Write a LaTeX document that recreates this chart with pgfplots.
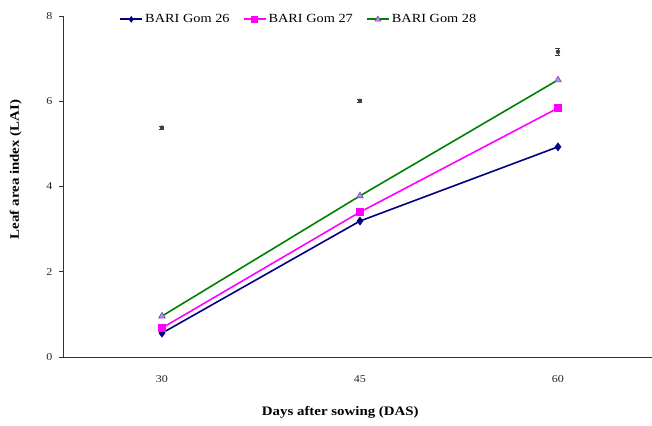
\documentclass[border=0pt]{standalone}
\usepackage{pgfplots}
\pgfplotsset{compat=1.18}
\usepackage{fontspec}
\setmainfont[FakeStretch=1.15]{Liberation Serif}
\definecolor{navy}{RGB}{0,0,128}
\definecolor{mag}{RGB}{255,0,255}
\definecolor{grn}{RGB}{0,128,0}
\definecolor{tri}{RGB}{153,153,255}
\definecolor{trie}{RGB}{153,51,153}
\begin{document}
\begin{tikzpicture}
\path[use as bounding box] (-63bp,-69bp) rectangle (589bp,357bp);
\begin{axis}[
  scale only axis,
  width=590bp, height=341bp,
  xmin=-0.5, xmax=2.48,
  ymin=0, ymax=8,
  axis lines*=left,
  axis line style={black!80, line width=0.6pt},
  xtick={0,1,2}, xticklabels={30,45,60},
  major x tick style={draw=none},
  extra x ticks={0.5,1.5},
  extra x tick labels={},
  extra x tick style={major tick length=4bp, tick style={black!80, line width=0.6pt}},
  ytick={0,2,4,6,8},
  tick align=outside,
  major tick length=4bp,
  tick style={black!80, line width=0.6pt},
  /pgf/number format/assume math mode=true,
  tick label style={font=\fontsize{10.5}{12}\selectfont, text=black!85},
  yticklabel style={xshift=-3bp},
  xticklabel style={yshift=-11bp},
  xlabel={\textbf{Days after sowing (DAS)}},
  ylabel={\textbf{Leaf area index (LAI)}},
  label style={font=\fontsize{13}{15}\selectfont},
  xlabel style={at={(axis description cs:0.47,-0.162)}, anchor=center},
  ylabel style={at={(axis description cs:-0.08,0.55)}, anchor=center, rotate=0},
  legend columns=3,
  legend style={draw=none, fill=none, at={(0.095,0.99)}, anchor=west, inner sep=0pt,
    font=\fontsize{12.5}{14}\selectfont, /tikz/every even column/.append style={column sep=11bp}},
  legend cell align=left,
  clip=false,
]
\addplot[navy, line width=1.6pt, mark=diamond*, mark size=3.2bp, mark options={fill=navy, draw=navy},
  legend image code/.code={%
    \draw[navy, line width=2pt] (0bp,0bp) -- (22bp,0bp);
    \draw[navy, fill=navy, line width=0.4pt] plot[mark=diamond*, mark size=3bp] coordinates {(11bp,0bp)};}]
  coordinates {(0,0.56) (1,3.19) (2,4.93)};
\addlegendentry{BARI Gom 26}
\addplot[mag, line width=1.6pt, mark=square*, mark size=3.2bp, mark options={fill=mag, draw=mag},
  legend image code/.code={%
    \draw[mag, line width=2pt] (0bp,0bp) -- (22bp,0bp);
    \draw[mag, fill=mag, line width=0.4pt] plot[mark=square*, mark size=3bp] coordinates {(11bp,0bp)};}]
  coordinates {(0,0.68) (1,3.40) (2,5.84)};
\addlegendentry{BARI Gom 27}
\addplot[grn, line width=1.6pt, mark=triangle*, mark size=3.8bp, mark options={fill=tri, draw=trie, line width=0.6pt},
  legend image code/.code={%
    \draw[grn, line width=2pt] (0bp,0bp) -- (22bp,0bp);
    \draw[trie, fill=tri, line width=0.6pt] plot[mark=triangle*, mark size=3.3bp] coordinates {(11bp,0bp)};}]
  coordinates {(0,0.96) (1,3.78) (2,6.50)};
\addlegendentry{BARI Gom 28}
\addplot[forget plot, only marks, mark=none, black!75,
  error bars/.cd, y dir=both, y explicit,
  error bar style={black!75, line width=0.8pt},
  error mark options={rotate=90, mark size=2.5bp, black!75, line width=0.8pt}]
  coordinates {(0,5.38) +- (0,0.03) (1,6.01) +- (0,0.04) (2,7.16) +- (0,0.09)};
\end{axis}
\end{tikzpicture}
\end{document}
